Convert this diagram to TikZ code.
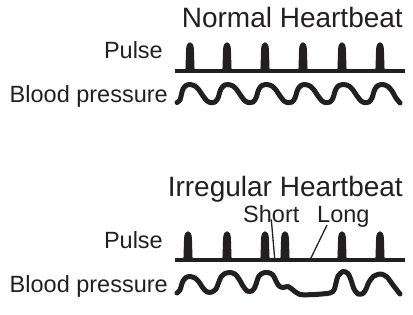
\documentclass[tikz,border=0pt]{standalone}
\usepackage{fontspec}
\setmainfont{Liberation Sans}
\usepackage{tikz}
\usetikzlibrary{positioning,calc}
\definecolor{inkc}{RGB}{35,31,32}
% one pulse spike: centre x, baseline y
\newcommand{\pulsespike}[2]{%
  \fill[inkc] (#1-6.5,#2) .. controls (#1-4.5,#2-1) .. (#1-4.4,#2-6) -- (#1-3.9,#2-22)
    .. controls (#1-3.5,#2-31) and (#1+3.5,#2-31) .. (#1+3.9,#2-22)
    -- (#1+4.4,#2-6) .. controls (#1+4.5,#2-1) .. (#1+6.5,#2) -- cycle;}
\tikzset{
  heading/.style={font=\fontsize{28}{30}\selectfont,text=inkc,anchor=base east,inner sep=0pt},
  rowlabel/.style={font=\fontsize{23.5}{25}\selectfont,text=inkc,anchor=base east,inner sep=0pt},
  marklabel/.style={font=\fontsize{23.5}{25}\selectfont,text=inkc,anchor=base west,inner sep=0pt},
  baseline/.style={draw=inkc,line width=4pt},
  bpwave/.style={draw=inkc,line width=5pt,line cap=round,line join=round},
  pointer/.style={draw=inkc,line width=1.3pt},
}
\begin{document}
\begin{tikzpicture}[x=1pt,y=-1pt]
  \useasboundingbox (0,0) rectangle (413,314);
  % normal heartbeat
  \node[heading] (normal) at (403,27) {Normal Heartbeat};
  \node[rowlabel] (pulseA) at (163,58) {Pulse};
  \node[rowlabel] (bloodA) at (168,102) {Blood pressure};
  \draw[baseline] (175,71) -- (405,71);
  \foreach \px in {190,227,265,303,342,380} {\pulsespike{\px}{71}}
  \draw[bpwave] plot[smooth,tension=0.45] coordinates {
    (177,102.5) (180,100) (181.5,94) (183,89) (186,85.5) (190,84.5)
    (195,86) (199,90) (203,96) (207,101) (210,102.5) (215,102) (218,98) (219.5,93) (221,89) (224,85.5) (228,84.5)
    (233,86) (237,90) (241,96) (245,101) (248,102.5) (253,102) (256,98) (257.5,93) (259,89) (262,85.5) (267,84.5)
    (272,86) (276,90) (280,96) (284,101) (287,102.5) (292,102) (295,98) (296.5,93) (298,89) (301,85.5) (305,84.5)
    (310,86) (314,90) (318,96) (322,101) (325,102.5) (330,102) (333,98) (334.5,93) (336,89) (339,85.5) (344,84.5)
    (349,86) (353,90) (357,96) (361,101) (364,102.5) (369,102) (372,98) (373.5,93) (375,89) (378,85.5) (383,84.5)
    (388,86.5) (392,91) (396,98) (400,103)};
  % irregular heartbeat
  \node[heading] (irregular) at (403,196) {Irregular Heartbeat};
  \node[marklabel] (short) at (243,222) {Short};
  \node[marklabel] (long) at (317,222) {Long};
  \node[rowlabel] (pulseB) at (163,248) {Pulse};
  \node[rowlabel] (bloodB) at (168,292) {Blood pressure};
  \draw[baseline] (175,260) -- (405,260);
  \foreach \px in {188,227,265,285,342,380} {\pulsespike{\px}{260}}
  \coordinate (shortend) at (275,262);
  \coordinate (longend) at (310,260);
  \draw[pointer] (short.south) ++(0,-3) -- (shortend);
  \draw[pointer] ($(long.base west)+(10,3)$) -- (longend);
  \draw[bpwave] plot[smooth,tension=0.45] coordinates {
    (177,293) (180,290) (181.5,285) (183,281) (186,277.5) (190,276.5)
    (195,278) (199,282) (203,288) (207,292) (212,292) (216,289) (218.5,283) (221,277) (225,273.5) (230,272.5)
    (235,274) (239,279) (243,286) (247,291) (252,291) (255,287) (257,281) (259,276) (263,273) (268,272.5)
    (273,275) (276,281) (279,286) (283,287.5) (288,286.5) (293,290) (300,294.5)
    (315,294.5) (330,293) (334,290) (336,283) (338,276) (343,271.5)
    (348,273.5) (351,280) (354,289) (358,294) (363,293.5) (366,289) (369,282) (374,276) (381,274)
    (387,277) (393,285) (400,294)};
\end{tikzpicture}
\end{document}
